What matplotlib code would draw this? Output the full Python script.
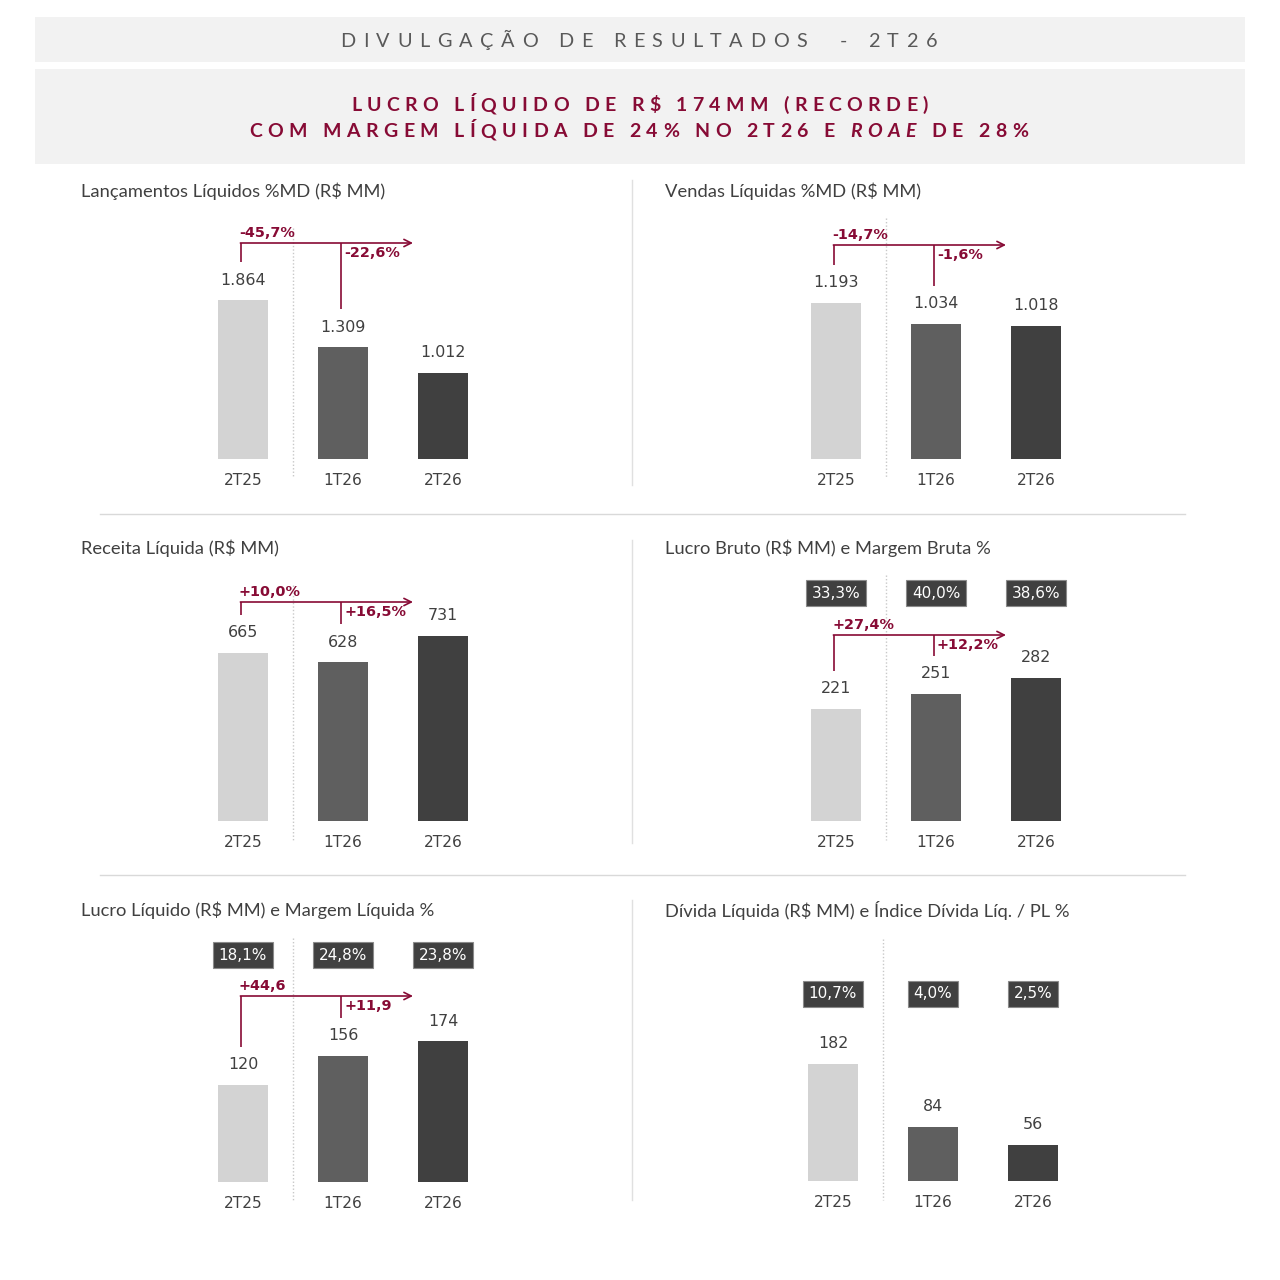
import matplotlib
matplotlib.use("Agg")
import matplotlib.pyplot as plt
from matplotlib.font_manager import FontProperties

plt.rcParams["font.family"] = ["DejaVu Sans"]

# ---- data ----
categories = ["2T25", "1T26", "2T26"]

titles = [
    "Lançamentos Líquidos %MD (R$ MM)",
    "Vendas Líquidas %MD (R$ MM)",
    "Receita Líquida (R$ MM)",
    "Lucro Bruto (R$ MM) e Margem Bruta %",
    "Lucro Líquido (R$ MM) e Margem Líquida %",
    "Dívida Líquida (R$ MM) e Índice Dívida Líq. / PL %",
]

lancamentos = [1864, 1309, 1012]
vendas = [1193, 1034, 1018]
receita = [665, 628, 731]
lucro_bruto = [221, 251, 282]
lucro_liquido = [120, 156, 174]
divida = [182, 84, 56]

margem_bruta = [33.3, 40.0, 38.6]
margem_liquida = [18.1, 24.8, 23.8]
divida_pl = [10.7, 4.0, 2.5]

var_lancamentos = ["-45,7%", "-22,6%"]
var_vendas = ["-14,7%", "-1,6%"]
var_receita = ["+10,0%", "+16,5%"]
var_lucro_bruto = ["+27,4%", "+12,2%"]
var_lucro_liquido = ["+44,6", "+11,9"]

series = [lancamentos, vendas, receita, lucro_bruto, lucro_liquido, divida]
ratios = [None, None, None, margem_bruta, margem_liquida, divida_pl]
variations = [var_lancamentos, var_vendas, var_receita, var_lucro_bruto,
              var_lucro_liquido, None]
y_limits = [2345, 1529, 790, 394, 247, 311]

# ---- layout (pixels, top-left origin) ----
# title x, title y, first bar centre, baseline, bracket y, ratio box y, dotted top
layout = [
    (81, 191, 243, 459, 243, None, 228),
    (665, 191, 836, 459, 245, None, 218),
    (81, 548, 243, 821, 602, None, 585),
    (665, 548, 836, 821, 635, 593, 575),
    (81, 910, 243, 1182, 996, 955, 938),
    (665, 910, 833, 1181, None, 994, 939),
]

RED = "#870b35"
TXT = "#404040"
BAR_COLORS = ["#d3d3d3", "#5f5f5f", "#404040"]
W = H = 1280
AX_H = 200

fig = plt.figure(figsize=(12.8, 12.8), dpi=100)
fx = fig.add_axes([0, 0, 1, 1], zorder=0)
fx.set_xlim(0, W)
fx.set_ylim(H, 0)
fx.axis("off")

# header boxes
fx.add_patch(plt.Rectangle((35, 17), 1210, 45, color="#f2f2f2", lw=0))
fx.add_patch(plt.Rectangle((35, 69), 1210, 95, color="#f2f2f2", lw=0))

renderer = fig.canvas.get_renderer()


def text_w(s, fp):
    return renderer.get_text_width_height_descent(s, fp, ismath=False)[0]


def tracked(x0, x1, y, segments, size, color, weight):
    chars = []
    for txt, style in segments:
        fp = FontProperties(family="Lato", size=size, weight=weight, style=style)
        for ch in txt:
            chars.append((ch, fp))
    widths = []
    for ch, fp in chars:
        if ch == " ":
            widths.append(text_w("x x", fp) - text_w("xx", fp))
        else:
            widths.append(text_w(ch, fp))
    track = (x1 - x0 - sum(widths)) / (len(chars) - 1)
    x = x0
    for (ch, fp), w in zip(chars, widths):
        fx.text(x, y, ch, fontproperties=fp, color=color, ha="left", va="baseline")
        x += w + track


tracked(340, 937, 47, [("DIVULGAÇÃO DE RESULTADOS  - 2T26", "normal")],
        14.3, "#595959", "normal")
tracked(351, 928, 111, [("LUCRO LÍQUIDO DE R$ 174MM (RECORDE)", "normal")],
        14, RED, "bold")
tracked(249, 1028, 137, [("COM MARGEM LÍQUIDA DE 24% NO 2T26 E ", "normal"),
                         ("ROAE", "italic"), (" DE 28%", "normal")],
        14, RED, "bold")

# separators
for yy in (514, 875):
    fx.plot([100, 1185], [yy, yy], color="#d9d9d9", lw=1)
for y0, y1 in ((180, 485), (540, 843), (900, 1200)):
    fx.plot([632, 632], [y0, y1], color="#e0e0e0", lw=1)


def to_px(ax, x, y):
    disp = ax.transData.transform((x, y))
    return fx.transData.inverted().transform(disp)


for k in range(6):
    tx, ty, c0, base, br_y, box_y, dot_top = layout[k]
    vals = series[k]
    ax = fig.add_axes([(c0 - 100) / W, (H - base) / H, 400 / W, AX_H / H], zorder=1)
    ax.set_xlim(-1, 3)
    ax.set_ylim(0, y_limits[k])
    ax.patch.set_alpha(0)
    ax.axis("off")

    fx.text(tx, ty, titles[k], family="Lato", fontsize=13.2, color=TXT,
            ha="left", va="center")

    xs = list(range(len(categories)))
    ax.bar(xs, vals, width=0.5, color=BAR_COLORS, zorder=2)
    for i, v in enumerate(vals):
        ax.annotate(f"{v:,}".replace(",", "."), (i, v), xytext=(0, 14.4),
                    textcoords="offset points", ha="center", va="center",
                    fontsize=11.4, color=TXT, annotation_clip=False)
        ax.annotate(categories[i], (i, 0), xytext=(0, -15.5),
                    textcoords="offset points", ha="center", va="center",
                    fontsize=11.1, color=TXT, annotation_clip=False)

    # dotted divider between first and second bar
    dx = to_px(ax, 0.5, 0)[0]
    fx.plot([dx, dx], [dot_top, base + 19], color="#c8c8c8", lw=1,
            ls=(0, (1, 1.5)))

    if ratios[k] is not None:
        for i, r in enumerate(ratios[k]):
            bx = to_px(ax, i, 0)[0]
            fx.text(bx, box_y, f"{r:.1f}%".replace(".", ","), color="white",
                    fontsize=11, ha="center", va="center",
                    bbox=dict(boxstyle="square,pad=0.36", fc="#404040",
                              ec="#8a8a8a", lw=0.8))

    if variations[k] is not None:
        x_start = to_px(ax, -0.02, 0)[0]
        x_mid = to_px(ax, 0.98, 0)[0]
        x_end = to_px(ax, 1.7, 0)[0]
        top0 = to_px(ax, 0, vals[0])[1] - 38
        top1 = to_px(ax, 1, vals[1])[1] - 38
        fx.plot([x_start, x_start], [br_y, top0], color=RED, lw=1.2,
                solid_capstyle="butt")
        fx.plot([x_mid, x_mid], [br_y, top1], color=RED, lw=1.2,
                solid_capstyle="butt")
        fx.annotate("", xy=(x_end, br_y), xytext=(x_start - 0.6, br_y),
                    arrowprops=dict(arrowstyle="->", color=RED, lw=1.2,
                                    mutation_scale=13, shrinkA=0, shrinkB=0))
        fx.text(x_start - 2, br_y - 3, variations[k][0], color=RED,
                fontsize=10.4, fontweight="bold", ha="left", va="bottom")
        fx.text(x_mid + 3, br_y + 3, variations[k][1], color=RED,
                fontsize=10.4, fontweight="bold", ha="left", va="top")

fig.savefig("out.png", dpi=100, facecolor="white")
